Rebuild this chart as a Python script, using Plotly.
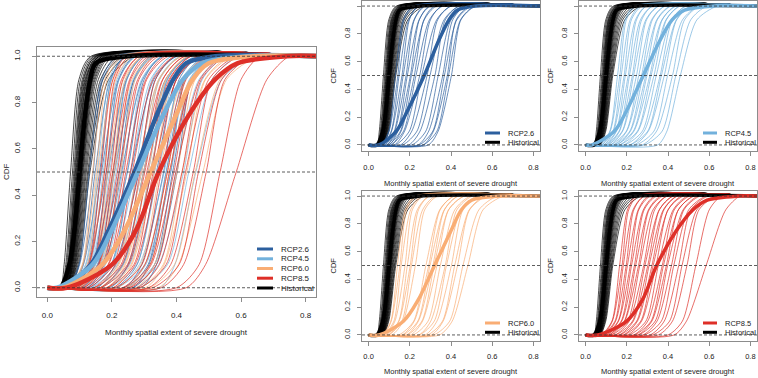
import plotly.graph_objects as go

W, H = 758, 378

# ---------------- data ----------------
# x positions (spatial extent) where each model's CDF reaches these levels
thin_levels = [0.0, 0.1, 0.5, 0.9, 1.0]
thick_levels = [0.0, 0.1, 0.25, 0.5, 0.75, 0.9, 0.97, 1.0]
x_lo, x_hi = 0.0, 0.85          # extent over which every CDF is drawn
ref_levels = [0.0, 0.5, 1.0]    # dashed reference lines
x_ticks = [0.0, 0.2, 0.4, 0.6, 0.8]
y_ticks = [0.0, 0.2, 0.4, 0.6, 0.8, 1.0]

hist_thin = [
    [0.040, 0.052, 0.072, 0.098, 0.135],
    [0.043, 0.057, 0.078, 0.103, 0.140],
    [0.045, 0.060, 0.082, 0.108, 0.145],
    [0.046, 0.063, 0.085, 0.111, 0.150],
    [0.048, 0.065, 0.087, 0.113, 0.150],
    [0.049, 0.066, 0.089, 0.116, 0.155],
    [0.050, 0.068, 0.091, 0.118, 0.160],
    [0.051, 0.069, 0.092, 0.120, 0.155],
    [0.052, 0.070, 0.094, 0.122, 0.160],
    [0.053, 0.072, 0.095, 0.124, 0.165],
    [0.054, 0.073, 0.097, 0.126, 0.160],
    [0.055, 0.074, 0.098, 0.128, 0.170],
    [0.055, 0.075, 0.100, 0.130, 0.165],
    [0.056, 0.076, 0.101, 0.132, 0.170],
    [0.057, 0.077, 0.103, 0.134, 0.175],
    [0.058, 0.078, 0.104, 0.136, 0.170],
    [0.058, 0.079, 0.105, 0.138, 0.180],
    [0.059, 0.080, 0.107, 0.140, 0.175],
    [0.060, 0.082, 0.108, 0.142, 0.180],
    [0.061, 0.083, 0.110, 0.145, 0.185],
    [0.062, 0.085, 0.112, 0.148, 0.190],
    [0.063, 0.086, 0.115, 0.152, 0.195],
    [0.064, 0.088, 0.118, 0.158, 0.205],
    [0.065, 0.090, 0.121, 0.165, 0.220],
    [0.066, 0.092, 0.125, 0.172, 0.235],
    [0.068, 0.095, 0.128, 0.180, 0.250],
    [0.070, 0.098, 0.132, 0.190, 0.270],
]
hist_thick = [0.040, 0.068, 0.084, 0.100, 0.117, 0.133, 0.150, 0.250]

rcp26_thin = [
    [0.060, 0.098, 0.130, 0.168, 0.215],
    [0.066, 0.100, 0.142, 0.172, 0.225],
    [0.068, 0.110, 0.148, 0.195, 0.245],
    [0.078, 0.112, 0.162, 0.198, 0.240],
    [0.080, 0.125, 0.168, 0.220, 0.270],
    [0.090, 0.128, 0.182, 0.222, 0.275],
    [0.088, 0.140, 0.188, 0.245, 0.300],
    [0.100, 0.142, 0.203, 0.246, 0.295],
    [0.095, 0.155, 0.208, 0.270, 0.330],
    [0.110, 0.158, 0.222, 0.268, 0.320],
    [0.108, 0.170, 0.230, 0.295, 0.360],
    [0.125, 0.175, 0.248, 0.300, 0.355],
    [0.130, 0.198, 0.258, 0.330, 0.400],
    [0.155, 0.210, 0.284, 0.335, 0.400],
    [0.165, 0.235, 0.298, 0.366, 0.440],
    [0.195, 0.250, 0.322, 0.372, 0.440],
    [0.210, 0.278, 0.338, 0.400, 0.475],
    [0.240, 0.292, 0.360, 0.408, 0.470],
    [0.245, 0.312, 0.368, 0.428, 0.500],
    [0.265, 0.315, 0.382, 0.425, 0.490],
    [0.265, 0.332, 0.388, 0.446, 0.515],
    [0.290, 0.338, 0.402, 0.448, 0.520],
]
rcp26_thick = [0.050, 0.135, 0.190, 0.270, 0.340, 0.390, 0.430, 0.520]

rcp45_thin = [
    [0.070, 0.118, 0.155, 0.192, 0.235],
    [0.078, 0.120, 0.166, 0.198, 0.245],
    [0.078, 0.133, 0.173, 0.216, 0.265],
    [0.088, 0.136, 0.187, 0.222, 0.275],
    [0.088, 0.148, 0.193, 0.242, 0.295],
    [0.098, 0.150, 0.207, 0.247, 0.295],
    [0.098, 0.163, 0.213, 0.266, 0.325],
    [0.108, 0.165, 0.227, 0.272, 0.325],
    [0.106, 0.178, 0.233, 0.292, 0.355],
    [0.120, 0.180, 0.247, 0.296, 0.355],
    [0.120, 0.198, 0.258, 0.320, 0.385],
    [0.135, 0.200, 0.272, 0.324, 0.385],
    [0.136, 0.215, 0.278, 0.345, 0.410],
    [0.150, 0.218, 0.292, 0.348, 0.415],
    [0.146, 0.232, 0.298, 0.370, 0.440],
    [0.165, 0.235, 0.312, 0.372, 0.435],
    [0.165, 0.252, 0.318, 0.390, 0.460],
    [0.185, 0.255, 0.332, 0.392, 0.455],
    [0.190, 0.276, 0.343, 0.415, 0.490],
    [0.215, 0.285, 0.362, 0.420, 0.485],
    [0.215, 0.302, 0.368, 0.440, 0.510],
    [0.235, 0.305, 0.382, 0.442, 0.515],
    [0.245, 0.332, 0.398, 0.470, 0.550],
    [0.275, 0.345, 0.422, 0.480, 0.555],
    [0.285, 0.372, 0.438, 0.510, 0.590],
    [0.350, 0.395, 0.460, 0.540, 0.640],
]
rcp45_thick = [0.030, 0.140, 0.200, 0.280, 0.360, 0.420, 0.480, 0.620]

rcp60_thin = [
    [0.065, 0.108, 0.140, 0.178, 0.225],
    [0.072, 0.110, 0.152, 0.185, 0.235],
    [0.073, 0.123, 0.158, 0.204, 0.255],
    [0.083, 0.128, 0.177, 0.212, 0.265],
    [0.088, 0.146, 0.188, 0.236, 0.295],
    [0.098, 0.148, 0.202, 0.242, 0.295],
    [0.097, 0.162, 0.208, 0.262, 0.325],
    [0.113, 0.168, 0.227, 0.272, 0.335],
    [0.146, 0.219, 0.278, 0.345, 0.415],
    [0.163, 0.222, 0.292, 0.347, 0.415],
    [0.166, 0.239, 0.298, 0.367, 0.435],
    [0.184, 0.242, 0.312, 0.368, 0.435],
    [0.186, 0.259, 0.318, 0.388, 0.465],
    [0.204, 0.262, 0.332, 0.388, 0.465],
    [0.216, 0.289, 0.348, 0.418, 0.495],
    [0.244, 0.302, 0.372, 0.428, 0.505],
    [0.246, 0.319, 0.378, 0.448, 0.525],
    [0.274, 0.332, 0.402, 0.458, 0.535],
    [0.286, 0.359, 0.418, 0.488, 0.565],
    [0.304, 0.362, 0.432, 0.490, 0.575],
    [0.316, 0.394, 0.458, 0.535, 0.625],
    [0.344, 0.406, 0.482, 0.555, 0.655],
]
rcp60_thick = [0.050, 0.170, 0.240, 0.320, 0.400, 0.450, 0.500, 0.640]

rcp85_thin = [
    [0.075, 0.128, 0.165, 0.203, 0.245],
    [0.083, 0.130, 0.177, 0.209, 0.255],
    [0.082, 0.143, 0.183, 0.230, 0.285],
    [0.093, 0.146, 0.197, 0.234, 0.285],
    [0.092, 0.158, 0.203, 0.255, 0.305],
    [0.103, 0.160, 0.217, 0.258, 0.315],
    [0.102, 0.173, 0.223, 0.280, 0.335],
    [0.113, 0.176, 0.237, 0.284, 0.345],
    [0.112, 0.188, 0.243, 0.305, 0.365],
    [0.123, 0.190, 0.257, 0.308, 0.375],
    [0.127, 0.205, 0.263, 0.327, 0.395],
    [0.143, 0.212, 0.282, 0.335, 0.395],
    [0.146, 0.228, 0.288, 0.357, 0.425],
    [0.163, 0.232, 0.302, 0.358, 0.425],
    [0.166, 0.248, 0.308, 0.377, 0.445],
    [0.183, 0.252, 0.322, 0.380, 0.445],
    [0.186, 0.268, 0.328, 0.400, 0.465],
    [0.203, 0.272, 0.342, 0.400, 0.475],
    [0.211, 0.293, 0.353, 0.425, 0.495],
    [0.233, 0.302, 0.372, 0.430, 0.505],
    [0.236, 0.318, 0.378, 0.450, 0.525],
    [0.253, 0.322, 0.392, 0.450, 0.525],
    [0.256, 0.338, 0.398, 0.473, 0.545],
    [0.278, 0.347, 0.417, 0.477, 0.555],
    [0.286, 0.368, 0.428, 0.500, 0.585],
    [0.313, 0.382, 0.452, 0.510, 0.595],
    [0.326, 0.408, 0.468, 0.540, 0.625],
    [0.353, 0.422, 0.492, 0.550, 0.635],
    [0.400, 0.470, 0.535, 0.600, 0.660],
    [0.430, 0.490, 0.585, 0.680, 0.750],
]
rcp85_thick = [0.060, 0.200, 0.275, 0.345, 0.440, 0.520, 0.590, 0.740]

scenario_names = ["RCP2.6", "RCP4.5", "RCP6.0", "RCP8.5"]
scenario_thin = [rcp26_thin, rcp45_thin, rcp60_thin, rcp85_thin]
scenario_thick = [rcp26_thick, rcp45_thick, rcp60_thick, rcp85_thick]
scenario_colors = ["#2c5f9e", "#72b1dc", "#f9ad74", "#de2f28"]
hist_name, hist_color = "Historical", "#000000"
x_title = "Monthly spatial extent of severe drought"
y_title = "CDF"

# ---------------- layout helpers ----------------
FONT = "Liberation Sans, Arial, Helvetica, sans-serif"
BOX = "#8c8c8c"


def px_x(v):
    return v / W


def px_y(v):
    return 1 - v / H


# panel boxes in pixels: (left, right, top, bottom)
panels = [
    dict(box=(37, 316, 47, 297), scen=[0, 1, 2, 3], fs=8.0, thin_w=0.7, thick_w=4.5,
         leg=dict(x0=257, x1=273, tx=279, rows=[249, 258.8, 268.5, 278.2, 288]),
         ylab_x=6, xlab_y=332, ytick_std=9, xtick_std=6),
    dict(box=(362, 540, 0.5, 150.5), scen=[0], fs=7.5, thin_w=0.7, thick_w=3.5,
         leg=dict(x0=485, x1=500, tx=506, rows=[133, 142.3]),
         ylab_x=333, xlab_y=183, ytick_std=4, xtick_std=5),
    dict(box=(579, 757, 0.5, 150.5), scen=[1], fs=7.5, thin_w=0.7, thick_w=3.5,
         leg=dict(x0=703, x1=717, tx=723, rows=[133, 142.3]),
         ylab_x=550, xlab_y=183, ytick_std=4, xtick_std=5),
    dict(box=(362, 540, 190.5, 340.5), scen=[2], fs=7.5, thin_w=0.7, thick_w=3.5,
         leg=dict(x0=485, x1=500, tx=506, rows=[323, 332.3]),
         ylab_x=333, xlab_y=371.5, ytick_std=4, xtick_std=4),
    dict(box=(579, 757, 190.5, 340.5), scen=[3], fs=7.5, thin_w=0.7, thick_w=3.5,
         leg=dict(x0=703, x1=717, tx=723, rows=[323, 332.3]),
         ylab_x=550, xlab_y=371.5, ytick_std=4, xtick_std=4),
]


def curve(row, levels):
    xs = [x_lo] + list(row) + [x_hi]
    ys = [levels[0]] + list(levels) + [levels[-1]]
    return xs, ys


fig = go.Figure()
shapes, annotations = [], []
layout_axes = {}

for i, p in enumerate(panels, start=1):
    sfx = "" if i == 1 else str(i)
    xa, ya = f"x{sfx}", f"y{sfx}"
    groups_thin = [(hist_thin, hist_color)] + [(scenario_thin[s], scenario_colors[s]) for s in p["scen"]]
    for rows, col in groups_thin:
        for r in rows:
            xs, ys = curve(r, thin_levels)
            fig.add_trace(go.Scatter(x=xs, y=ys, mode="lines", xaxis=xa, yaxis=ya,
                                     line=dict(color=col, width=p["thin_w"], shape="spline", smoothing=0.7),
                                     showlegend=False, hoverinfo="skip"))
    groups_thick = [(hist_thick, hist_color)] + [(scenario_thick[s], scenario_colors[s]) for s in p["scen"]]
    for r, col in groups_thick:
        xs, ys = curve(r, thick_levels)
        fig.add_trace(go.Scatter(x=xs, y=ys, mode="lines", xaxis=xa, yaxis=ya,
                                 line=dict(color=col, width=p["thick_w"], shape="spline", smoothing=0.9),
                                 showlegend=False, hoverinfo="skip"))

    l, r_, t, b = p["box"]
    axcommon = dict(showgrid=False, zeroline=False, showline=True, mirror=True,
                    linecolor=BOX, linewidth=1, ticks="outside", ticklen=4,
                    tickwidth=0.8, tickcolor=BOX, tickformat=".1f",
                    tickfont=dict(family=FONT, size=p["fs"], color="#222"))
    layout_axes[f"xaxis{sfx}"] = dict(axcommon, domain=[px_x(l), px_x(r_)], range=[-0.032, 0.832],
                                      anchor=ya, tickvals=x_ticks, ticklabelstandoff=p["xtick_std"])
    layout_axes[f"yaxis{sfx}"] = dict(axcommon, domain=[px_y(b), px_y(t)], range=[-0.04, 1.04],
                                      anchor=xa, tickvals=y_ticks, tickangle=-90,
                                      ticklabelstandoff=p["ytick_std"])

    for lv in ref_levels:
        shapes.append(dict(type="line", xref=f"{xa} domain", yref=ya, x0=0, x1=1, y0=lv, y1=lv,
                           line=dict(color="#333", width=0.8, dash="3px,2px"), layer="above"))

    annotations.append(dict(text=x_title, xref="paper", yref="paper",
                            x=px_x((l + r_) / 2), y=px_y(p["xlab_y"]), showarrow=False,
                            xanchor="center", yanchor="middle",
                            font=dict(family=FONT, size=p["fs"], color="#222")))
    annotations.append(dict(text=y_title, xref="paper", yref="paper", textangle=-90,
                            x=px_x(p["ylab_x"]), y=px_y((t + b) / 2), showarrow=False,
                            xanchor="center", yanchor="middle",
                            font=dict(family=FONT, size=p["fs"], color="#222")))

    lg = p["leg"]
    leg_items = [(scenario_names[s], scenario_colors[s]) for s in p["scen"]] + [(hist_name, hist_color)]
    for (name, col), yy in zip(leg_items, lg["rows"]):
        shapes.append(dict(type="line", xref="paper", yref="paper",
                           x0=px_x(lg["x0"]), x1=px_x(lg["x1"]), y0=px_y(yy), y1=px_y(yy),
                           line=dict(color=col, width=3), layer="above"))
        annotations.append(dict(text=name, xref="paper", yref="paper",
                                x=px_x(lg["tx"]), y=px_y(yy), showarrow=False,
                                xanchor="left", yanchor="middle",
                                font=dict(family=FONT, size=p["fs"], color="#222")))

fig.update_layout(width=W, height=H, margin=dict(l=0, r=0, t=0, b=0),
                  paper_bgcolor="white", plot_bgcolor="white",
                  shapes=shapes, annotations=annotations, showlegend=False, **layout_axes)

fig.write_html("out.html", config={"displayModeBar": False},
               post_script="document.body.style.margin='0';document.body.style.padding='0';")
